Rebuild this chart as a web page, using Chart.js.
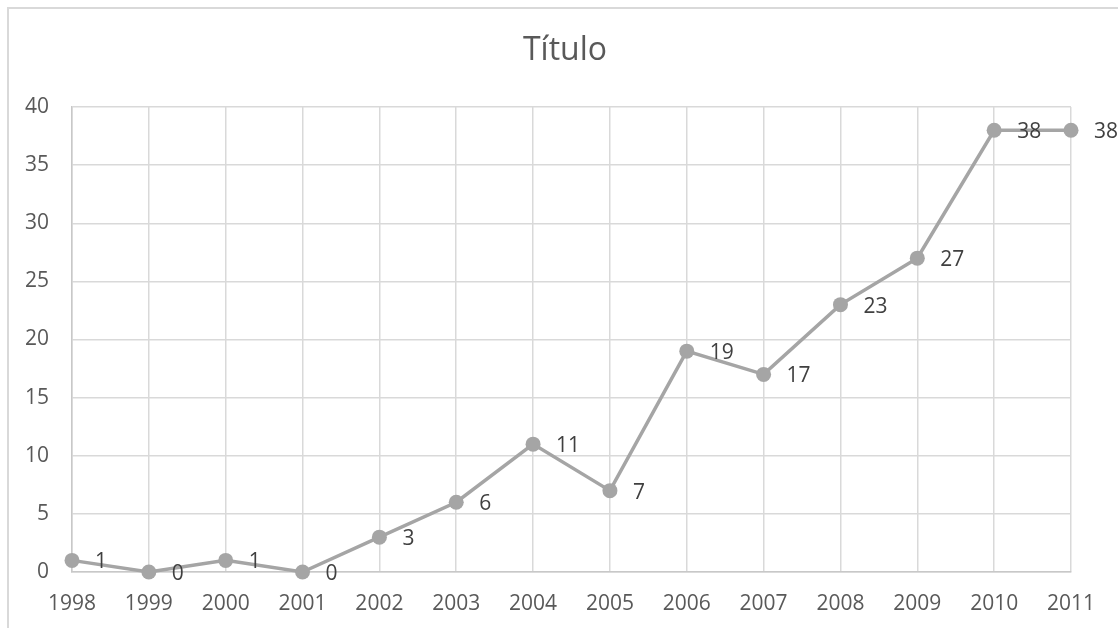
<!DOCTYPE html>
<html>
<head>
<meta charset="utf-8">
<title>Título</title>
<script src="https://cdn.jsdelivr.net/npm/chart.js@4.4.1/dist/chart.umd.min.js"></script>
<style>
  html, body { margin: 0; padding: 0; background: #fff; }
  canvas { display: block; }
</style>
</head>
<body>
<canvas id="chart" width="1118" height="628"></canvas>
<script>
// series
const years = ["1998", "1999", "2000", "2001", "2002", "2003", "2004",
               "2005", "2006", "2007", "2008", "2009", "2010", "2011"];
const counts = [1, 0, 1, 0, 3, 6, 11, 7, 19, 17, 23, 27, 38, 38];
const chartTitle = "Título";

const FONT = "'Open Sans', 'Noto Sans', sans-serif";
const GRID = "#d9d9d9";
const LINE = "#a5a5a5";

// frame around the whole chart, plus the heading
const framePlugin = {
  id: "frame",
  beforeDraw(chart) {
    const ctx = chart.ctx;
    ctx.save();
    ctx.fillStyle = "#ffffff";
    ctx.fillRect(0, 0, chart.width, chart.height);
    ctx.strokeStyle = GRID;
    ctx.lineWidth = 2;
    ctx.strokeRect(8, 8, chart.width + 50, chart.height + 50);
    ctx.font = "32px " + FONT;
    ctx.fillStyle = "#595959";
    ctx.textAlign = "center";
    ctx.textBaseline = "middle";
    ctx.fillText(chartTitle, 565, 51);
    ctx.restore();
  }
};

// value labels to the right of each point
const valueLabels = {
  id: "valueLabels",
  afterDatasetsDraw(chart) {
    const ctx = chart.ctx;
    const meta = chart.getDatasetMeta(0);
    ctx.save();
    ctx.font = "21px " + FONT;
    ctx.fillStyle = "#404040";
    ctx.textAlign = "left";
    ctx.textBaseline = "middle";
    meta.data.forEach((pt, i) => {
      ctx.fillText(String(counts[i]), pt.x + 23, pt.y + 2);
    });
    ctx.restore();
  }
};

new Chart(document.getElementById("chart"), {
  type: "line",
  data: {
    labels: years,
    datasets: [{
      data: counts,
      borderColor: LINE,
      backgroundColor: LINE,
      borderWidth: 3.5,
      pointRadius: 7.5,
      pointHoverRadius: 7.5,
      pointBorderWidth: 0,
      pointBackgroundColor: LINE,
      tension: 0,
      clip: false
    }]
  },
  options: {
    responsive: false,
    animation: false,
    events: [],
    layout: { padding: { left: 0, right: 47, top: 107, bottom: 0 } },
    plugins: {
      legend: { display: false },
      tooltip: { enabled: false },
      title: { display: false }
    },
    scales: {
      x: {
        offset: false,
        grid: { color: GRID, lineWidth: 1.5, drawTicks: false },
        border: { color: "#c8c8c8", width: 1.5 },
        ticks: {
          color: "#595959",
          font: { family: FONT, size: 21 },
          padding: 19,
          maxRotation: 0,
          autoSkip: false
        },
        afterFit(scale) { scale.height = 56; }
      },
      y: {
        min: 0,
        max: 40,
        grid: { color: GRID, lineWidth: 1.5, drawTicks: false },
        border: { color: "#c8c8c8", width: 1.5 },
        ticks: {
          stepSize: 5,
          color: "#595959",
          font: { family: FONT, size: 21 },
          padding: 23
        },
        afterFit(scale) { scale.width = 72; }
      }
    }
  },
  plugins: [framePlugin, valueLabels]
});
</script>
</body>
</html>
